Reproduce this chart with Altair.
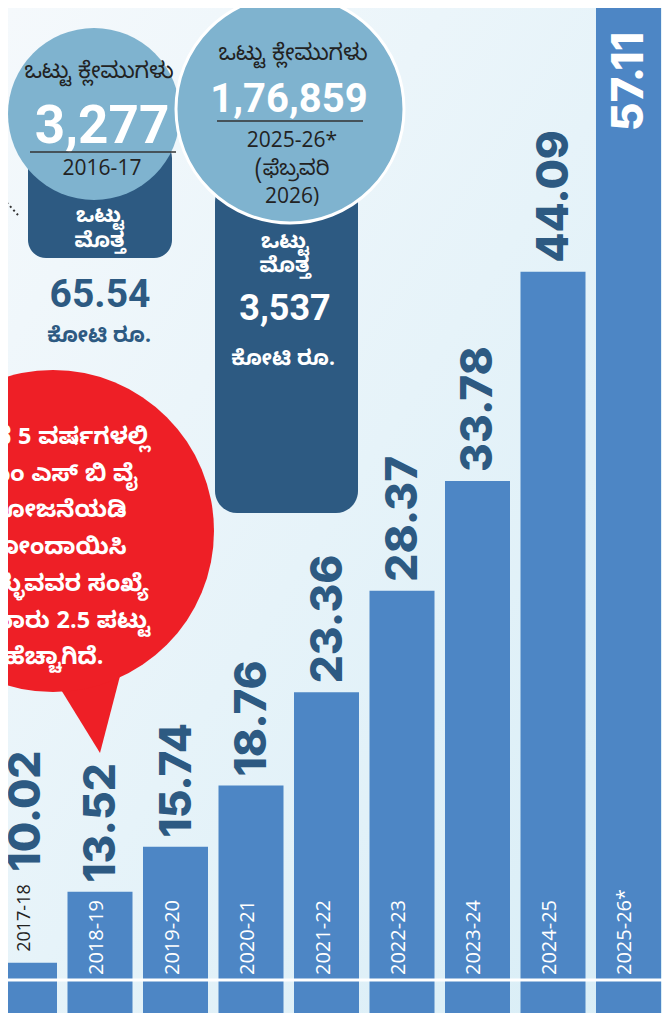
import altair as alt
import pandas as pd

# ---- data ----
years = ["2017-18", "2018-19", "2019-20", "2020-21", "2021-22",
         "2022-23", "2023-24", "2024-25", "2025-26*"]
amounts = [10.02, 13.52, 15.74, 18.76, 23.36, 28.37, 33.78, 44.09, 57.11]

bubble_lines = ["ಕಳೆದ 5 ವರ್ಷಗಳಲ್ಲಿ", "ಪಿಎಂ ಎಸ್ ಬಿ ವೈ", "ಯೋಜನೆಯಡಿ",
                "ನೋಂದಾಯಿಸಿ", "ಕೊಳ್ಳುವವರ ಸಂಖ್ಯೆ", "ಸುಮಾರು 2.5 ಪಟ್ಟು",
                "ಹೆಚ್ಚಾಗಿದೆ."]

W, H = 654, 1005
NAVY = "#2d5a82"
BAR = "#4d86c5"
LIGHT = "#7fb3cf"
RED = "#ee1f26"
KN = "Noto Sans Kannada, Noto Sans, sans-serif"
NUMF = "Roboto, sans-serif"

df = pd.DataFrame({"year": years, "value": amounts})
one = pd.DataFrame({"a": [0]})

xs = alt.Scale(domain=years, range=[-16, 653], paddingInner=0.139, paddingOuter=0)
ys = alt.Scale(domain=[0, 60], range=[1158, 1158 - 60 * 20.28], nice=False, zero=True)
X = alt.X("year:N", scale=xs, axis=None, sort=years)
Y = alt.Y("value:Q", scale=ys, axis=None)

bg = alt.Chart(one).mark_rect(
    color=alt.LinearGradient(
        gradient="linear", x1=0, y1=0, x2=1, y2=1,
        stops=[alt.GradientStop(color="#f5f9fc", offset=0),
               alt.GradientStop(color="#e6f3f9", offset=0.5),
               alt.GradientStop(color="#d8edf6", offset=1)])
).encode(x=alt.value(0), x2=alt.value(W), y=alt.value(0), y2=alt.value(H))

bars = alt.Chart(df).mark_bar(color=BAR, clip=True).encode(x=X, y=Y)

hline = alt.Chart(one).mark_rule(color="white", strokeWidth=3).encode(
    x=alt.value(0), x2=alt.value(W), y=alt.value(972))

first = alt.datum.year == years[0]
last = alt.datum.year == years[-1]

year_in = alt.Chart(df).transform_filter(~first).mark_text(
    angle=270, align="left", baseline="middle", color="white",
    font="Open Sans", fontSize=20, dy=-3
).encode(x=X, y=alt.value(967), text="year:N")

year_out = alt.Chart(df).transform_filter(first).mark_text(
    angle=270, align="left", baseline="middle", color="#222222",
    font="Open Sans", fontSize=18, dx=11
).encode(x=X, y=Y, text="year:N")

lab_mid = alt.Chart(df).transform_filter(~first & ~last).mark_text(
    angle=270, align="left", baseline="middle", color=NAVY,
    font="Inter", fontWeight=800, fontSize=44, dx=9, dy=2
).encode(x=X, y=Y, text=alt.Text("value:Q", format=".2f"))

lab_first = alt.Chart(df).transform_filter(first).mark_text(
    angle=270, align="left", baseline="middle", color=NAVY,
    font="Inter", fontWeight=800, fontSize=44, dx=91, dy=2
).encode(x=X, y=Y, text=alt.Text("value:Q", format=".2f"))

lab_last = alt.Chart(df).transform_filter(last).mark_text(
    angle=270, align="right", baseline="middle", color="white",
    font="Inter", fontWeight=800, fontSize=44, dx=-24, dy=2
).encode(x=X, y=Y, text=alt.Text("value:Q", format=".2f"))

# ---- annotations ----
def txt(s, x, y, size, color, font=KN, weight="normal", baseline="alphabetic"):
    return alt.Chart(one).mark_text(
        text=s, font=font, fontSize=size, fontWeight=weight, color=color,
        align="center", baseline=baseline
    ).encode(x=alt.value(x), y=alt.value(y))

def rect(x, x2, y, y2, r, color):
    return alt.Chart(one).mark_rect(color=color, cornerRadius=r).encode(
        x=alt.value(x), x2=alt.value(x2), y=alt.value(y), y2=alt.value(y2))

def circ(x, y, r, color, stroke=None):
    kw = dict(color=color, opacity=1, size=(2 * r) ** 2)
    if stroke:
        kw.update(stroke=stroke, strokeWidth=3, strokeOpacity=1)
    return alt.Chart(one).mark_circle(**kw).encode(x=alt.value(x), y=alt.value(y))

def hrule(x, x2, y, color="#333333", w=1.5):
    return alt.Chart(one).mark_rule(color=color, strokeWidth=w).encode(
        x=alt.value(x), x2=alt.value(x2), y=alt.value(y))

dots = alt.Chart(one).mark_rule(color="#333333", strokeWidth=2, strokeDash=[2, 3]).encode(
    x=alt.value(-8), y=alt.value(187), x2=alt.value(10), y2=alt.value(207))

red_circle = circ(45, 523, 161, RED)
red_tail = alt.Chart(one).mark_point(
    shape="M -0.45 -0.2 L 0.2 -0.24 L 0 0.53 Z", filled=True, color=RED,
    opacity=1, size=40000, strokeWidth=0
).encode(x=alt.value(92), y=alt.value(692))
red_text = alt.Chart(one).mark_text(
    text=bubble_lines, font=KN, fontSize=23.5, fontWeight="bold", color="white",
    align="center", baseline="middle", lineHeight=36.7
).encode(x=alt.value(46), y=alt.value(429))

left_group = [
    rect(20, 164, 132, 250, 18, NAVY),
    circ(86, 106, 86, LIGHT),
    txt("ಒಟ್ಟು ಕ್ಲೇಮುಗಳು", 91, 70, 22.5, "#222222"),
    txt("3,277", 94, 135, 53, "white", font=NUMF, weight="bold"),
    hrule(22, 168, 144),
    txt("2016-17", 94, 167, 21, "#222222", font="Open Sans"),
    txt("ಒಟ್ಟು", 92, 214, 21, "white", weight="bold"),
    txt("ಮೊತ್ತ", 92, 239, 21, "white", weight="bold"),
    txt("65.54", 92, 299, 39, NAVY, font=NUMF, weight="bold"),
    txt("ಕೋಟಿ ರೂ.", 91, 334, 21, NAVY, weight="bold"),
]

right_group = [
    rect(207, 350, 172, 505, 22, NAVY),
    circ(282, 101, 114, LIGHT, stroke="white"),
    txt("ಒಟ್ಟು ಕ್ಲೇಮುಗಳು", 285, 52, 22.5, "#222222"),
    txt("1,76,859", 281, 104, 40, "white", font=NUMF, weight="bold"),
    hrule(209, 355, 113),
    txt("2025-26*", 284, 139, 21, "#222222", font="Open Sans"),
    txt("(ಫೆಬ್ರವರಿ", 284, 167, 21, "#222222"),
    txt("2026)", 284, 195, 21, "#222222", font="Open Sans"),
    txt("ಒಟ್ಟು", 277, 240, 21, "white", weight="bold"),
    txt("ಮೊತ್ತ", 277, 264, 21, "white", weight="bold"),
    txt("3,537", 277, 312, 36, "white", font=NUMF, weight="bold"),
    txt("ಕೋಟಿ ರೂ.", 275, 357, 21, "white", weight="bold"),
]

chart = alt.layer(
    bg, bars, hline, year_in, year_out, lab_mid, lab_first, lab_last,
    dots, *left_group, *right_group, red_tail, red_circle, red_text
).properties(
    width=W, height=H, padding=0, autosize=alt.AutoSizeParams(type="none")
).configure_view(stroke=None)

chart.save("out.html", embed_options={"renderer": "svg", "actions": False})
